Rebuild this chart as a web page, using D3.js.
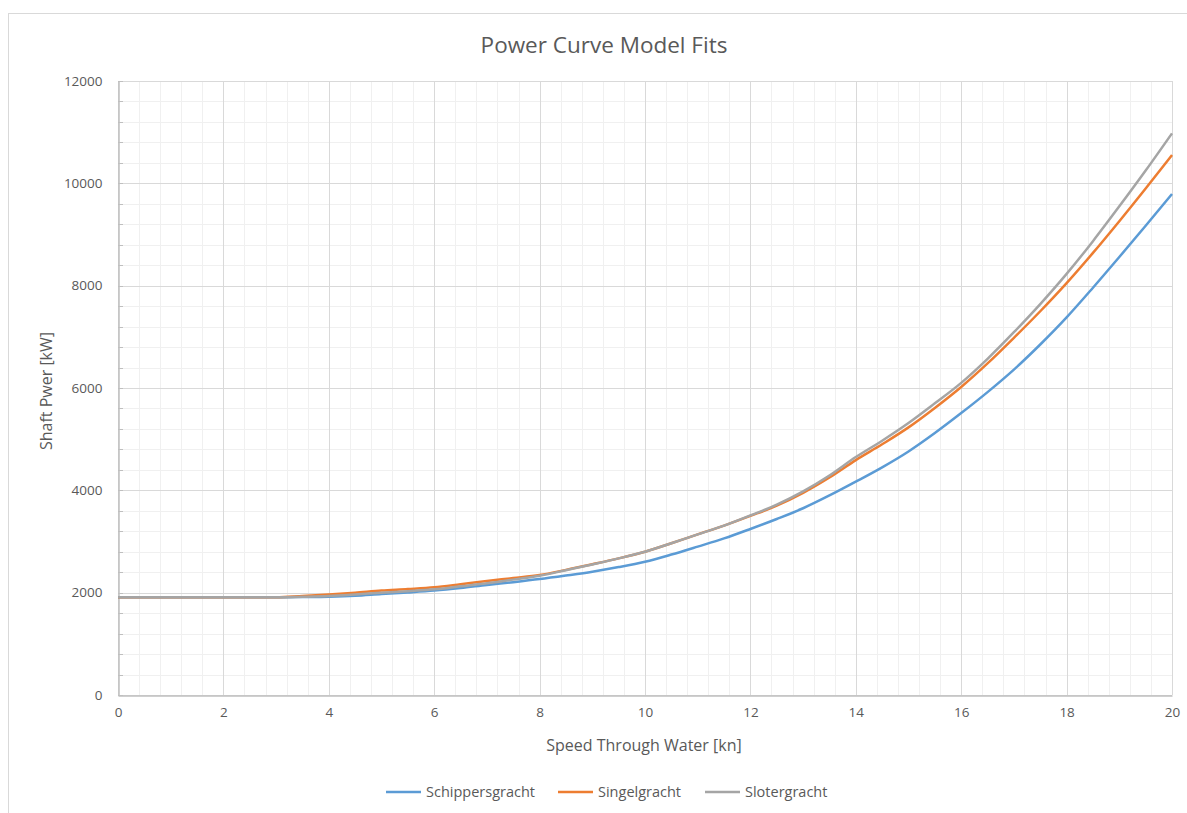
<!DOCTYPE html>
<html>
<head>
<meta charset="utf-8">
<script src="https://cdn.jsdelivr.net/npm/d3@7"></script>
<style>
  body { margin: 0; background: #fff; }
  text { font-family: "Open Sans", "Liberation Sans", sans-serif; fill: #595959; }
</style>
</head>
<body>
<script>
// speeds, every half knot
const speeds = [0,0.5,1,1.5,2,2.5,3,3.5,4,4.5,5,5.5,6,6.5,7,7.5,8,8.5,9,9.5,10,
  10.5,11,11.5,12,12.5,13,13.5,14,14.5,15,15.5,16,16.5,17,17.5,18,18.5,19,19.5,20];

const schippersgracht = [1910,1910,1910,1910,1910,1910,1910,1915,1922,1940,1975,2005,2040,2090,2150,2205,2265,2335,2410,2500,2605,
  2745,2900,3060,3245,3440,3650,3900,4170,4450,4760,5120,5510,5920,6360,6850,7380,7960,8560,9170,9791];
const singelgracht = [1910,1910,1910,1910,1910,1910,1910,1935,1965,2000,2040,2070,2105,2165,2228,2285,2345,2445,2555,2670,2800,
  2965,3140,3310,3500,3700,3950,4250,4590,4900,5230,5610,6020,6480,6980,7500,8050,8640,9260,9900,10553];
const slotergracht = [1910,1910,1910,1910,1910,1910,1910,1920,1935,1965,2000,2030,2065,2125,2183,2255,2330,2440,2550,2670,2800,
  2965,3140,3310,3510,3720,3980,4290,4650,4970,5315,5700,6100,6570,7090,7640,8230,8870,9550,10250,10977];

const seriesNames = ["Schippersgracht", "Singelgracht", "Slotergracht"];
const seriesValues = [schippersgracht, singelgracht, slotergracht];
const colors = ["#5B9BD5", "#ED7D31", "#A5A5A5"];

const xTicks = [0,2,4,6,8,10,12,14,16,18,20];
const yTicks = [0,2000,4000,6000,8000,10000,12000];

const width = 1187, height = 813;
const plotLeft = 118, plotRight = 1172, plotTop = 81, plotBottom = 695;

const svg = d3.select("body").append("svg")
  .attr("width", width)
  .attr("height", height);

// chart frame
svg.append("rect")
  .attr("x", 8.5).attr("y", 13.5)
  .attr("width", 1200).attr("height", 820)
  .attr("fill", "#fff").attr("stroke", "#d9d9d9");

const x = d3.scaleLinear().domain([0, 20]).range([plotLeft, plotRight]);
const y = d3.scaleLinear().domain([0, 12000]).range([plotBottom, plotTop]);

// minor grid
const grid = svg.append("g");
grid.selectAll(".vminor")
  .data(d3.range(0, 20.01, 0.4))
  .enter().append("line")
  .attr("x1", d => Math.round(x(d)) + 0.5).attr("x2", d => Math.round(x(d)) + 0.5)
  .attr("y1", plotTop).attr("y2", plotBottom)
  .attr("stroke", "#f0f0f0");
grid.selectAll(".hminor")
  .data(d3.range(0, 12001, 400))
  .enter().append("line")
  .attr("y1", d => Math.round(y(d)) + 0.5).attr("y2", d => Math.round(y(d)) + 0.5)
  .attr("x1", plotLeft).attr("x2", plotRight)
  .attr("stroke", "#f0f0f0");

// major grid
grid.selectAll(".vmajor")
  .data(xTicks)
  .enter().append("line")
  .attr("x1", d => Math.round(x(d)) + 0.5).attr("x2", d => Math.round(x(d)) + 0.5)
  .attr("y1", plotTop).attr("y2", plotBottom)
  .attr("stroke", "#d9d9d9");
grid.selectAll(".hmajor")
  .data(yTicks)
  .enter().append("line")
  .attr("y1", d => Math.round(y(d)) + 0.5).attr("y2", d => Math.round(y(d)) + 0.5)
  .attr("x1", plotLeft).attr("x2", plotRight)
  .attr("stroke", "#d9d9d9");

// axes
const xAxis = svg.append("g")
  .attr("transform", `translate(0,${plotBottom + 0.5})`)
  .call(d3.axisBottom(x).tickValues(xTicks).tickSize(0).tickPadding(12));
const yAxis = svg.append("g")
  .attr("transform", `translate(${plotLeft + 0.5},0)`)
  .call(d3.axisLeft(y).tickValues(yTicks).tickSize(0).tickPadding(16).tickFormat(d3.format("d")));
[xAxis, yAxis].forEach(a => {
  a.select(".domain").attr("stroke", "#bfbfbf").attr("stroke-width", 1.5);
  a.selectAll("text").attr("font-size", 13.5).attr("fill", "#595959")
    .attr("font-family", "'Open Sans', sans-serif");
});

// little minor ticks on the value axis
svg.append("g").selectAll("line")
  .data(d3.range(0, 12001, 400))
  .enter().append("line")
  .attr("x1", plotLeft).attr("x2", plotLeft + 5)
  .attr("y1", d => Math.round(y(d)) + 0.5).attr("y2", d => Math.round(y(d)) + 0.5)
  .attr("stroke", "#bfbfbf");

// series lines
const line = d3.line()
  .x((d, i) => x(speeds[i]))
  .y(d => y(d))
  .curve(d3.curveMonotoneX);

svg.append("g").selectAll("path")
  .data(seriesValues)
  .enter().append("path")
  .attr("d", line)
  .attr("fill", "none")
  .attr("stroke", (d, i) => colors[i])
  .attr("stroke-width", 2.5)
  .attr("stroke-linejoin", "round");

// title and axis titles
svg.append("text")
  .attr("x", 604).attr("y", 53)
  .attr("text-anchor", "middle")
  .attr("font-size", 22.5)
  .text("Power Curve Model Fits");

svg.append("text")
  .attr("x", 644).attr("y", 751)
  .attr("text-anchor", "middle")
  .attr("font-size", 16)
  .text("Speed Through Water [kn]");

svg.append("text")
  .attr("transform", `translate(52,391) rotate(-90)`)
  .attr("text-anchor", "middle")
  .attr("font-size", 16)
  .text("Shaft Pwer [kW]");

// legend
const legendX = [386, 558, 705];
const legend = svg.append("g").selectAll("g")
  .data(seriesNames)
  .enter().append("g")
  .attr("transform", (d, i) => `translate(${legendX[i]},792)`);
legend.append("line")
  .attr("x1", 0).attr("x2", 35)
  .attr("stroke", (d, i) => colors[i])
  .attr("stroke-width", 2.5);
legend.append("text")
  .attr("x", 40).attr("y", 5)
  .attr("font-size", 14.5)
  .text(d => d);
</script>
</body>
</html>
